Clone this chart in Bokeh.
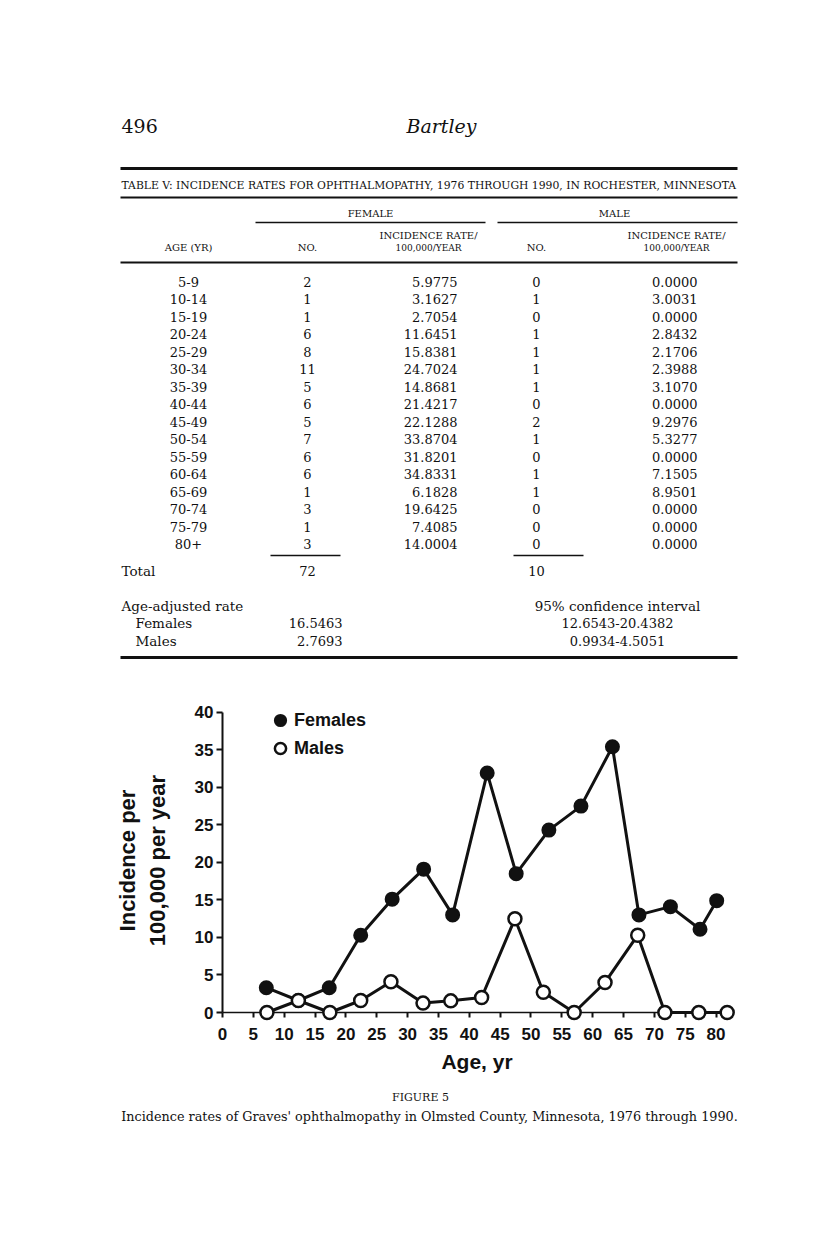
from bokeh.plotting import figure
from bokeh.models import Range1d, FixedTicker, Legend, LegendItem
from bokeh.layouts import column
from bokeh.core.properties import value
from bokeh.embed import file_html
from bokeh.resources import INLINE

# ---------------- data ----------------
page_number = "496"
running_head = "Bartley"
table_title = "TABLE V: INCIDENCE RATES FOR OPHTHALMOPATHY, 1976 THROUGH 1990, IN ROCHESTER, MINNESOTA"
age_groups = ["5-9", "10-14", "15-19", "20-24", "25-29", "30-34", "35-39", "40-44",
              "45-49", "50-54", "55-59", "60-64", "65-69", "70-74", "75-79", "80+"]
female_no = ["2", "1", "1", "6", "8", "11", "5", "6", "5", "7", "6", "6", "1", "3", "1", "3"]
female_rate = ["5.9775", "3.1627", "2.7054", "11.6451", "15.8381", "24.7024", "14.8681", "21.4217",
               "22.1288", "33.8704", "31.8201", "34.8331", "6.1828", "19.6425", "7.4085", "14.0004"]
male_no = ["0", "1", "0", "1", "1", "1", "1", "0", "2", "1", "0", "1", "1", "0", "0", "0"]
male_rate = ["0.0000", "3.0031", "0.0000", "2.8432", "2.1706", "2.3988", "3.1070", "0.0000",
             "9.2976", "5.3277", "0.0000", "7.1505", "8.9501", "0.0000", "0.0000", "0.0000"]
total_female = "72"
total_male = "10"
adj_labels = ["Females", "Males"]
adj_rates = ["16.5463", "2.7693"]
adj_ci = ["12.6543-20.4382", "0.9934-4.5051"]
figure_label = "FIGURE 5"
caption = "Incidence rates of Graves' ophthalmopathy in Olmsted County, Minnesota, 1976 through 1990."

# figure series (read from the plotted points)
fem_age = [7.1, 12.3, 17.3, 22.4, 27.5, 32.6, 37.3, 42.9, 47.6, 52.9, 58.1, 63.2, 67.5, 72.6, 77.4, 80.1]
fem_inc = [3.3, 1.6, 3.3, 10.3, 15.1, 19.1, 13.0, 31.9, 18.5, 24.3, 27.5, 35.4, 13.0, 14.1, 11.1, 14.9]
male_age = [7.2, 12.3, 17.4, 22.4, 27.3, 32.5, 37.0, 42.0, 47.4, 52.0, 57.0, 62.0, 67.3, 71.7, 77.2, 81.8]
male_inc = [0.0, 1.6, 0.0, 1.6, 4.1, 1.25, 1.55, 2.0, 12.5, 2.7, 0.0, 4.0, 10.3, 0.0, 0.0, 0.0]
x_ticks = [0, 5, 10, 15, 20, 25, 30, 35, 40, 45, 50, 55, 60, 65, 70, 75, 80]
y_ticks = [0, 5, 10, 15, 20, 25, 30, 35, 40]

SERIF = "DejaVu Serif"
SANS = "Liberation Sans"
INK = "#111111"

W = 816
BL, BR = 222, 85          # shared left/right borders (frames are aligned in the column)
FX0, FX1 = BL, W - BR     # page x of the frame edges


def page_fig(h, y0, y1):
    f = figure(width=W, height=h, x_range=Range1d(FX0, FX1), y_range=Range1d(y1, y0),
               output_backend="svg", toolbar_location=None,
               min_border_left=BL, min_border_right=BR, min_border_top=0, min_border_bottom=0)
    f.axis.visible = False
    f.grid.visible = False
    f.outline_line_color = None
    return f


def txt(f, xs, ys, texts, size, align="left", style="normal", font=SERIF):
    f.text(x=xs, y=ys, text=texts, text_font=value(font), text_font_size=size,
           text_align=align, text_baseline="middle", text_font_style=style,
           text_color=INK, level="overlay")


# ---------------- page top: header + table ----------------
top = page_fig(680, 0, 680)
txt(top, [121], [125], [page_number], "19px")
txt(top, [441], [125], [running_head], "19px", align="center", style="italic")

# rules
top.segment(x0=[120, 120, 120, 120], x1=[737, 737, 737, 737], y0=[168, 197, 262, 657],
            y1=[168, 197, 262, 657], line_color=INK, line_width=[3, 2, 2, 3], level="overlay")
top.segment(x0=[255, 497, 270, 513], x1=[485, 737, 340, 583], y0=[222, 222, 555, 555],
            y1=[222, 222, 555, 555], line_color=INK, line_width=1.5, level="overlay")

txt(top, [121], [185], [table_title], "10.8px")
txt(top, [370, 614], [213, 213], ["FEMALE", "MALE"], "10px", align="center")
txt(top, [188, 307, 536], [247, 247, 247], ["AGE (YR)", "NO.", "NO."], "10px", align="center")
txt(top, [428, 676], [235, 235], ["INCIDENCE RATE/", "INCIDENCE RATE/"], "10px", align="center")
txt(top, [428, 676], [247, 247], ["100,000/YEAR", "100,000/YEAR"], "9px", align="center")

n = len(age_groups)
row_y = [281 + 17.5 * i for i in range(n)]
txt(top, [188] * n, row_y, age_groups, "13px", align="center")
txt(top, [307] * n, row_y, female_no, "13px", align="center")
txt(top, [457] * n, row_y, female_rate, "13px", align="right")
txt(top, [536] * n, row_y, male_no, "13px", align="center")
txt(top, [697] * n, row_y, male_rate, "13px", align="right")

txt(top, [121], [570], ["Total"], "13.5px")
txt(top, [307, 536], [570, 570], [total_female, total_male], "13px", align="center")
txt(top, [121], [605], ["Age-adjusted rate"], "13.5px")
txt(top, [617], [605], ["95% confidence interval"], "13.5px", align="center")
txt(top, [135, 135], [622, 640], adj_labels, "13.5px")
txt(top, [342, 342], [622, 640], adj_rates, "13px", align="right")
txt(top, [617, 617], [622, 640], adj_ci, "13px", align="center")

# ---------------- chart ----------------
p = figure(width=W, height=402, x_range=Range1d(0, 82.5), y_range=Range1d(0, 40.5),
           output_backend="svg", toolbar_location=None,
           min_border_left=BL, min_border_right=BR, min_border_top=28, min_border_bottom=70)
p.grid.visible = False
p.outline_line_color = None
p.background_fill_color = None
p.border_fill_color = None

p.line(fem_age, fem_inc, line_color=INK, line_width=3, level="overlay")
p.line(male_age, male_inc, line_color=INK, line_width=3, level="overlay")
f_sc = p.scatter(fem_age, fem_inc, size=13, marker="circle", fill_color=INK,
                 line_color=INK, line_width=2, level="overlay")
m_sc = p.scatter(male_age, male_inc, size=13, marker="circle", fill_color="white",
                 line_color=INK, line_width=2.5, level="overlay")

p.xaxis.ticker = FixedTicker(ticks=x_ticks)
p.yaxis.ticker = FixedTicker(ticks=y_ticks)
p.yaxis.bounds = (0, 40)
for ax in (p.xaxis, p.yaxis):
    ax.major_label_text_font = SANS
    ax.major_label_text_font_style = "bold"
    ax.major_label_text_font_size = "17px"
    ax.major_label_text_color = INK
    ax.axis_label_text_font = SANS
    ax.axis_label_text_font_style = "bold"
    ax.axis_label_text_color = INK
    ax.minor_tick_line_color = None
    ax.axis_line_color = INK
    ax.major_tick_line_color = INK
    ax.major_tick_line_width = 2
p.xaxis.axis_label_text_font_size = "21px"
p.yaxis.axis_label_text_font_size = "22px"
p.xaxis.axis_line_width = 1.5
p.yaxis.axis_line_width = 2
p.xaxis.major_tick_out = 5
p.xaxis.major_tick_in = 0
p.yaxis.major_tick_out = 6
p.yaxis.major_tick_in = 0
p.xaxis.major_label_standoff = 10
p.yaxis.major_label_standoff = 3
p.xaxis.axis_label = "Age, yr"
p.xaxis.axis_label_standoff = 7
p.yaxis.axis_label = "Incidence per\n100,000 per year"
p.yaxis.axis_label_standoff = 22

legend = Legend(items=[LegendItem(label="Females", renderers=[f_sc]),
                       LegendItem(label="Males", renderers=[m_sc])],
                location=(44, 250), border_line_color=None, background_fill_alpha=0,
                label_text_font=SANS, label_text_font_style="bold", label_text_font_size="18px",
                label_text_color=INK, glyph_width=28, glyph_height=28, spacing=0,
                padding=0, margin=0, label_standoff=0, label_width=90, label_height=28)
p.add_layout(legend)

# ---------------- caption ----------------
cap = page_fig(60, 1082, 1142)
txt(cap, [420], [1097], [figure_label], "11px", align="center")
txt(cap, [429], [1116], [caption], "12.8px", align="center")

layout = column(top, p, cap, spacing=0)
open("out.html", "w").write(file_html(layout, INLINE))
